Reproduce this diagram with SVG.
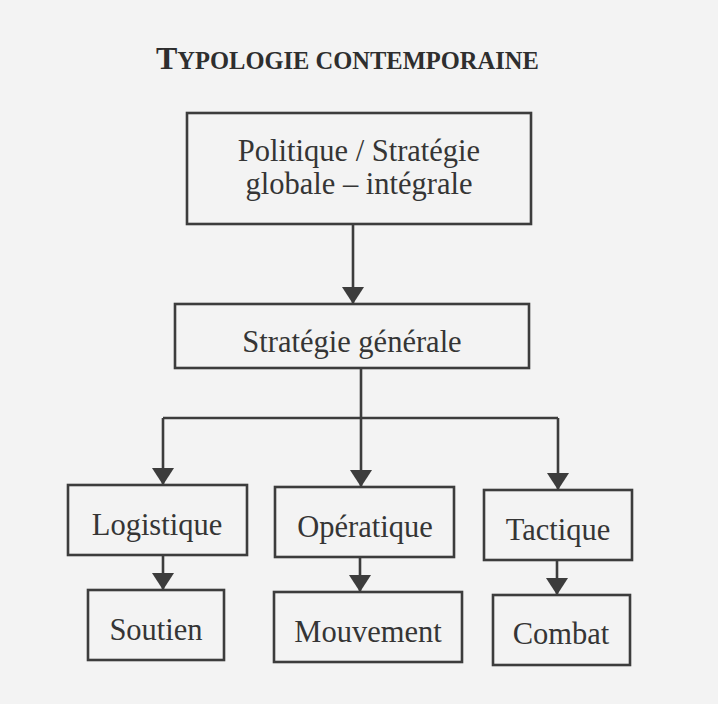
<svg xmlns="http://www.w3.org/2000/svg" width="718" height="704" viewBox="0 0 718 704">
<style>
.box{fill:none;stroke:#3c3c3c;stroke-width:2.6}
.lbl{font-family:"Liberation Serif","Times New Roman",serif;font-size:30.5px;fill:#353535;text-anchor:middle}
.ttl{font-family:"Liberation Serif","Times New Roman",serif;font-weight:bold;fill:#2e2e2e}
.con{fill:none;stroke:#3c3c3c;stroke-width:2.6}
</style>
<defs>
<marker id="ah" markerUnits="userSpaceOnUse" markerWidth="20" markerHeight="22" refX="17" refY="11" orient="auto">
<path d="M0,0 L17,11 L0,22 z" fill="#3c3c3c"/>
</marker>
</defs>
<rect width="718" height="704" fill="#f3f3f3"/>
<text class="ttl" x="156" y="69"><tspan font-size="32">T</tspan><tspan font-size="24.5">YPOLOGIE CONTEMPORAINE</tspan></text>
<g id="connectors">
<path class="con" d="M353,224 V304" marker-end="url(#ah)"/>
<path class="con" d="M361,368 V418"/>
<path class="con" d="M163,418 H558"/>
<path class="con" d="M163,418 V485" marker-end="url(#ah)"/>
<path class="con" d="M361,418 V487" marker-end="url(#ah)"/>
<path class="con" d="M558,418 V490" marker-end="url(#ah)"/>
<path class="con" d="M163,555 V590" marker-end="url(#ah)"/>
<path class="con" d="M360,557 V592" marker-end="url(#ah)"/>
<path class="con" d="M557,560 V595" marker-end="url(#ah)"/>
</g>
<g id="politique">
<rect class="box" x="187" y="113" width="344" height="111"/>
<text class="lbl" x="359" y="161" font-size="31">Politique / Stratégie</text>
<text class="lbl" x="359" y="194" font-size="31">globale – intégrale</text>
</g>
<g id="strategie-generale">
<rect class="box" x="175" y="304" width="354" height="64"/>
<text class="lbl" x="352" y="352">Stratégie générale</text>
</g>
<g id="logistique">
<rect class="box" x="68" y="485" width="179" height="70"/>
<text class="lbl" x="157" y="535">Logistique</text>
</g>
<g id="operatique">
<rect class="box" x="275" y="487" width="179" height="70"/>
<text class="lbl" x="365" y="537">Opératique</text>
</g>
<g id="tactique">
<rect class="box" x="484" y="490" width="148" height="70"/>
<text class="lbl" x="558" y="540">Tactique</text>
</g>
<g id="soutien">
<rect class="box" x="88" y="590" width="136" height="70"/>
<text class="lbl" x="156" y="640">Soutien</text>
</g>
<g id="mouvement">
<rect class="box" x="274" y="592" width="188" height="70"/>
<text class="lbl" x="368" y="642">Mouvement</text>
</g>
<g id="combat">
<rect class="box" x="493" y="595" width="137" height="70"/>
<text class="lbl" x="561" y="644">Combat</text>
</g>
</svg>
